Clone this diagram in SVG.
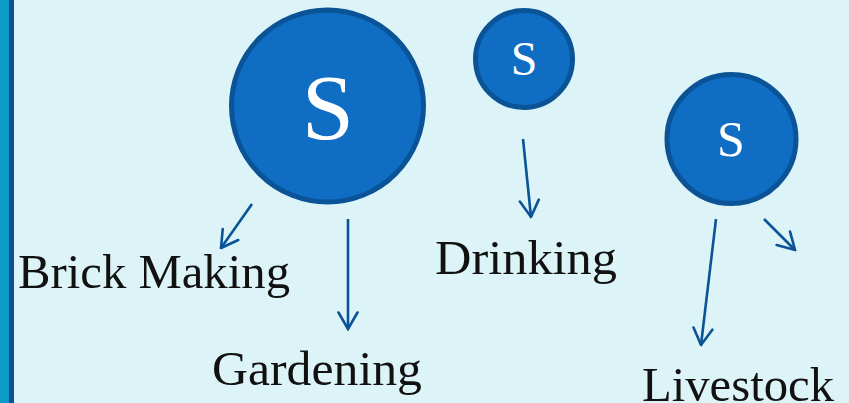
<svg xmlns="http://www.w3.org/2000/svg" width="849" height="403" viewBox="0 0 849 403">
  <style>
    .node circle { fill: #0F6DC4; stroke: #0A5396; stroke-width: 5; }
    .node text { fill: #ffffff; font-family: "Liberation Serif", serif; text-anchor: middle; }
    .label { fill: #111111; font-family: "Liberation Serif", serif; font-size: 48px; }
    .conn line { stroke: #0A5396; stroke-width: 2.6; fill: none; marker-end: url(#head); }
  </style>
  <defs>
    <!-- open V arrowhead -->
    <marker id="head" viewBox="0 0 20 22" refX="18.5" refY="11" markerWidth="20" markerHeight="22" markerUnits="userSpaceOnUse" orient="auto">
      <path d="M2,1.5 L18.5,11 L2,20.5" fill="none" stroke="#0A5396" stroke-width="2.6" stroke-linecap="round" stroke-linejoin="miter"/>
    </marker>
  </defs>

  <!-- background and left band -->
  <rect x="0" y="0" width="849" height="403" fill="#DCF4F8"/>
  <rect x="0" y="0" width="10" height="403" fill="#0E9AC6"/>
  <rect x="9" y="0" width="5" height="403" fill="#0B4F96"/>

  <g id="source-large" class="node">
    <circle cx="327.5" cy="106" r="96"/>
    <text x="328" y="139" font-size="94">S</text>
  </g>
  <g id="source-small" class="node">
    <circle cx="524" cy="59" r="48.5"/>
    <text x="524" y="75" font-size="48">S</text>
  </g>
  <g id="source-right" class="node">
    <circle cx="731.5" cy="139" r="64.5"/>
    <text x="731" y="156" font-size="50">S</text>
  </g>

  <g id="connectors" class="conn">
    <line x1="252" y1="204" x2="221" y2="248"/>
    <line x1="348" y1="219" x2="348" y2="329"/>
    <line x1="523" y1="139" x2="531" y2="217"/>
    <line x1="716" y1="219" x2="701" y2="345"/>
    <line x1="764" y1="219" x2="795" y2="250"/>
  </g>

  <g id="label-brick"><text class="label" x="18" y="288" textLength="272" lengthAdjust="spacingAndGlyphs">Brick Making</text></g>
  <g id="label-gardening"><text class="label" x="212" y="385" textLength="210" lengthAdjust="spacingAndGlyphs">Gardening</text></g>
  <g id="label-drinking"><text class="label" x="435" y="274" textLength="182" lengthAdjust="spacingAndGlyphs">Drinking</text></g>
  <g id="label-livestock"><text class="label" x="642" y="401" textLength="192" lengthAdjust="spacingAndGlyphs">Livestock</text></g>
</svg>
